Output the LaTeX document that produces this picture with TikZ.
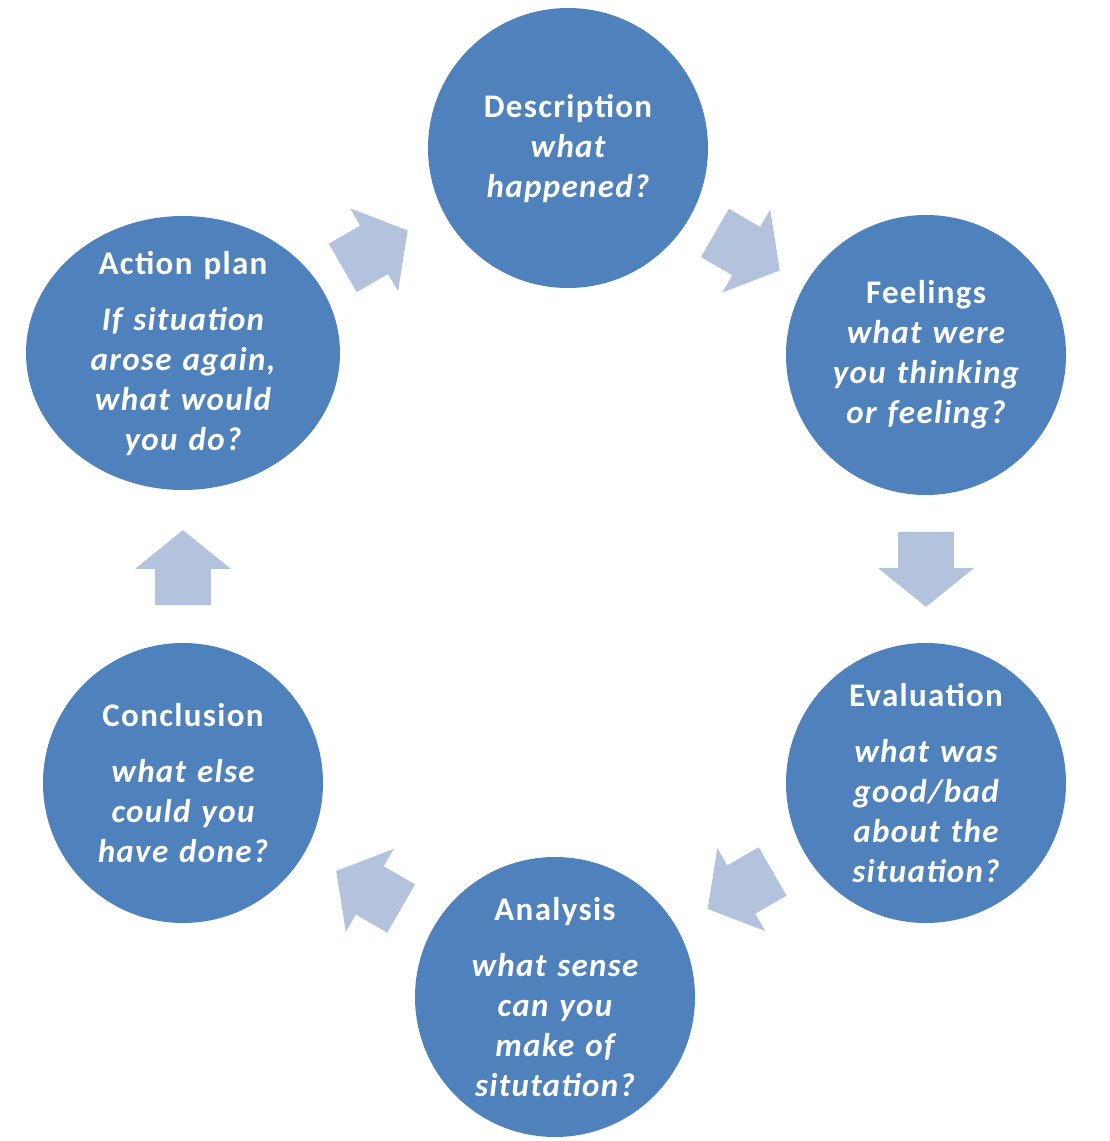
\documentclass[tikz,border=0pt]{standalone}
\usepackage{fontspec}
\setmainfont{Carlito}[LetterSpace=4]
\usetikzlibrary{shapes.geometric,shapes.arrows,calc}
\definecolor{stageblue}{HTML}{4F81BD}
\definecolor{flowblue}{HTML}{B3C3DE}

\begin{document}
\begin{tikzpicture}[x=0.5pt,y=-0.5pt,
  stage/.style={ellipse,fill=stageblue,draw=none,inner sep=0pt,
    minimum width=140pt,minimum height=140pt},
  caption/.style={text=white,align=center,text width=120pt,inner sep=0pt,
    font=\fontsize{16.5}{20}\selectfont},
  flow/.style={single arrow,fill=flowblue,draw=none,inner xsep=0pt,inner ysep=13.75pt,
    minimum height=37.5pt,minimum width=47.5pt,anchor=tail,
    single arrow head extend=10pt,single arrow tip angle=102}]
\useasboundingbox (0,0) rectangle (1109,1141);
% ---- the six stages of the cycle ----
\node[stage] (desc) at (568,148) {};
\node[stage] (feel) at (926,355) {};
\node[stage] (eval) at (926,783) {};
\node[stage] (anal) at (555,997) {};
\node[stage] (concl) at (183,783) {};
\node[stage,minimum width=157pt,minimum height=137pt] (act) at (183,353) {};
% ---- texts ----
\node[caption] (descT) at (desc) {\bfseries Description\\\itshape what\\happened?};
\node[caption] (feelT) at (feel) {\bfseries Feelings\\\itshape what were\\you thinking\\or feeling?};
\node[caption] (evalT) at (eval) {\bfseries Evaluation\\[8pt]\itshape what was\\good/bad\\about the\\situation?};
\node[caption] (analT) at (anal) {\bfseries Analysis\\[8pt]\itshape what sense\\can you\\make of\\situtation?};
\node[caption] (conclT) at (concl) {\bfseries Conclusion\\[8pt]\itshape what else\\could you\\have done?};
\node[caption] (actT) at (act) {\bfseries Action plan\\[8pt]\itshape If situation\\arose again,\\what would\\you do?};
% ---- block arrows between the stages ----
\coordinate (m1) at ($(desc)!0.5!(feel)$);
\coordinate (m2) at ($(feel)!0.5!(eval)$);
\coordinate (m3) at ($(eval)!0.5!(anal)$);
\coordinate (m4) at ($(anal)!0.5!(concl)$);
\coordinate (m5) at ($(concl)!0.5!(act)$);
\coordinate (m6) at ($(act)!0.5!(desc)$);
\node[flow,rotate=-30] (f1) at ($(m1)!18.75pt!(desc)$) {};
\node[flow,rotate=-90] (f2) at ($(m2)!18.75pt!(feel)$) {};
\node[flow,rotate=-150] (f3) at ($(m3)!18.75pt!(eval)$) {};
\node[flow,rotate=150] (f4) at ($(m4)!18.75pt!(anal)$) {};
\node[flow,rotate=90] (f5) at ($(m5)!18.75pt!(concl)$) {};
\node[flow,rotate=30] (f6) at ($(m6)!18.75pt!(act)$) {};
\end{tikzpicture}
\end{document}
